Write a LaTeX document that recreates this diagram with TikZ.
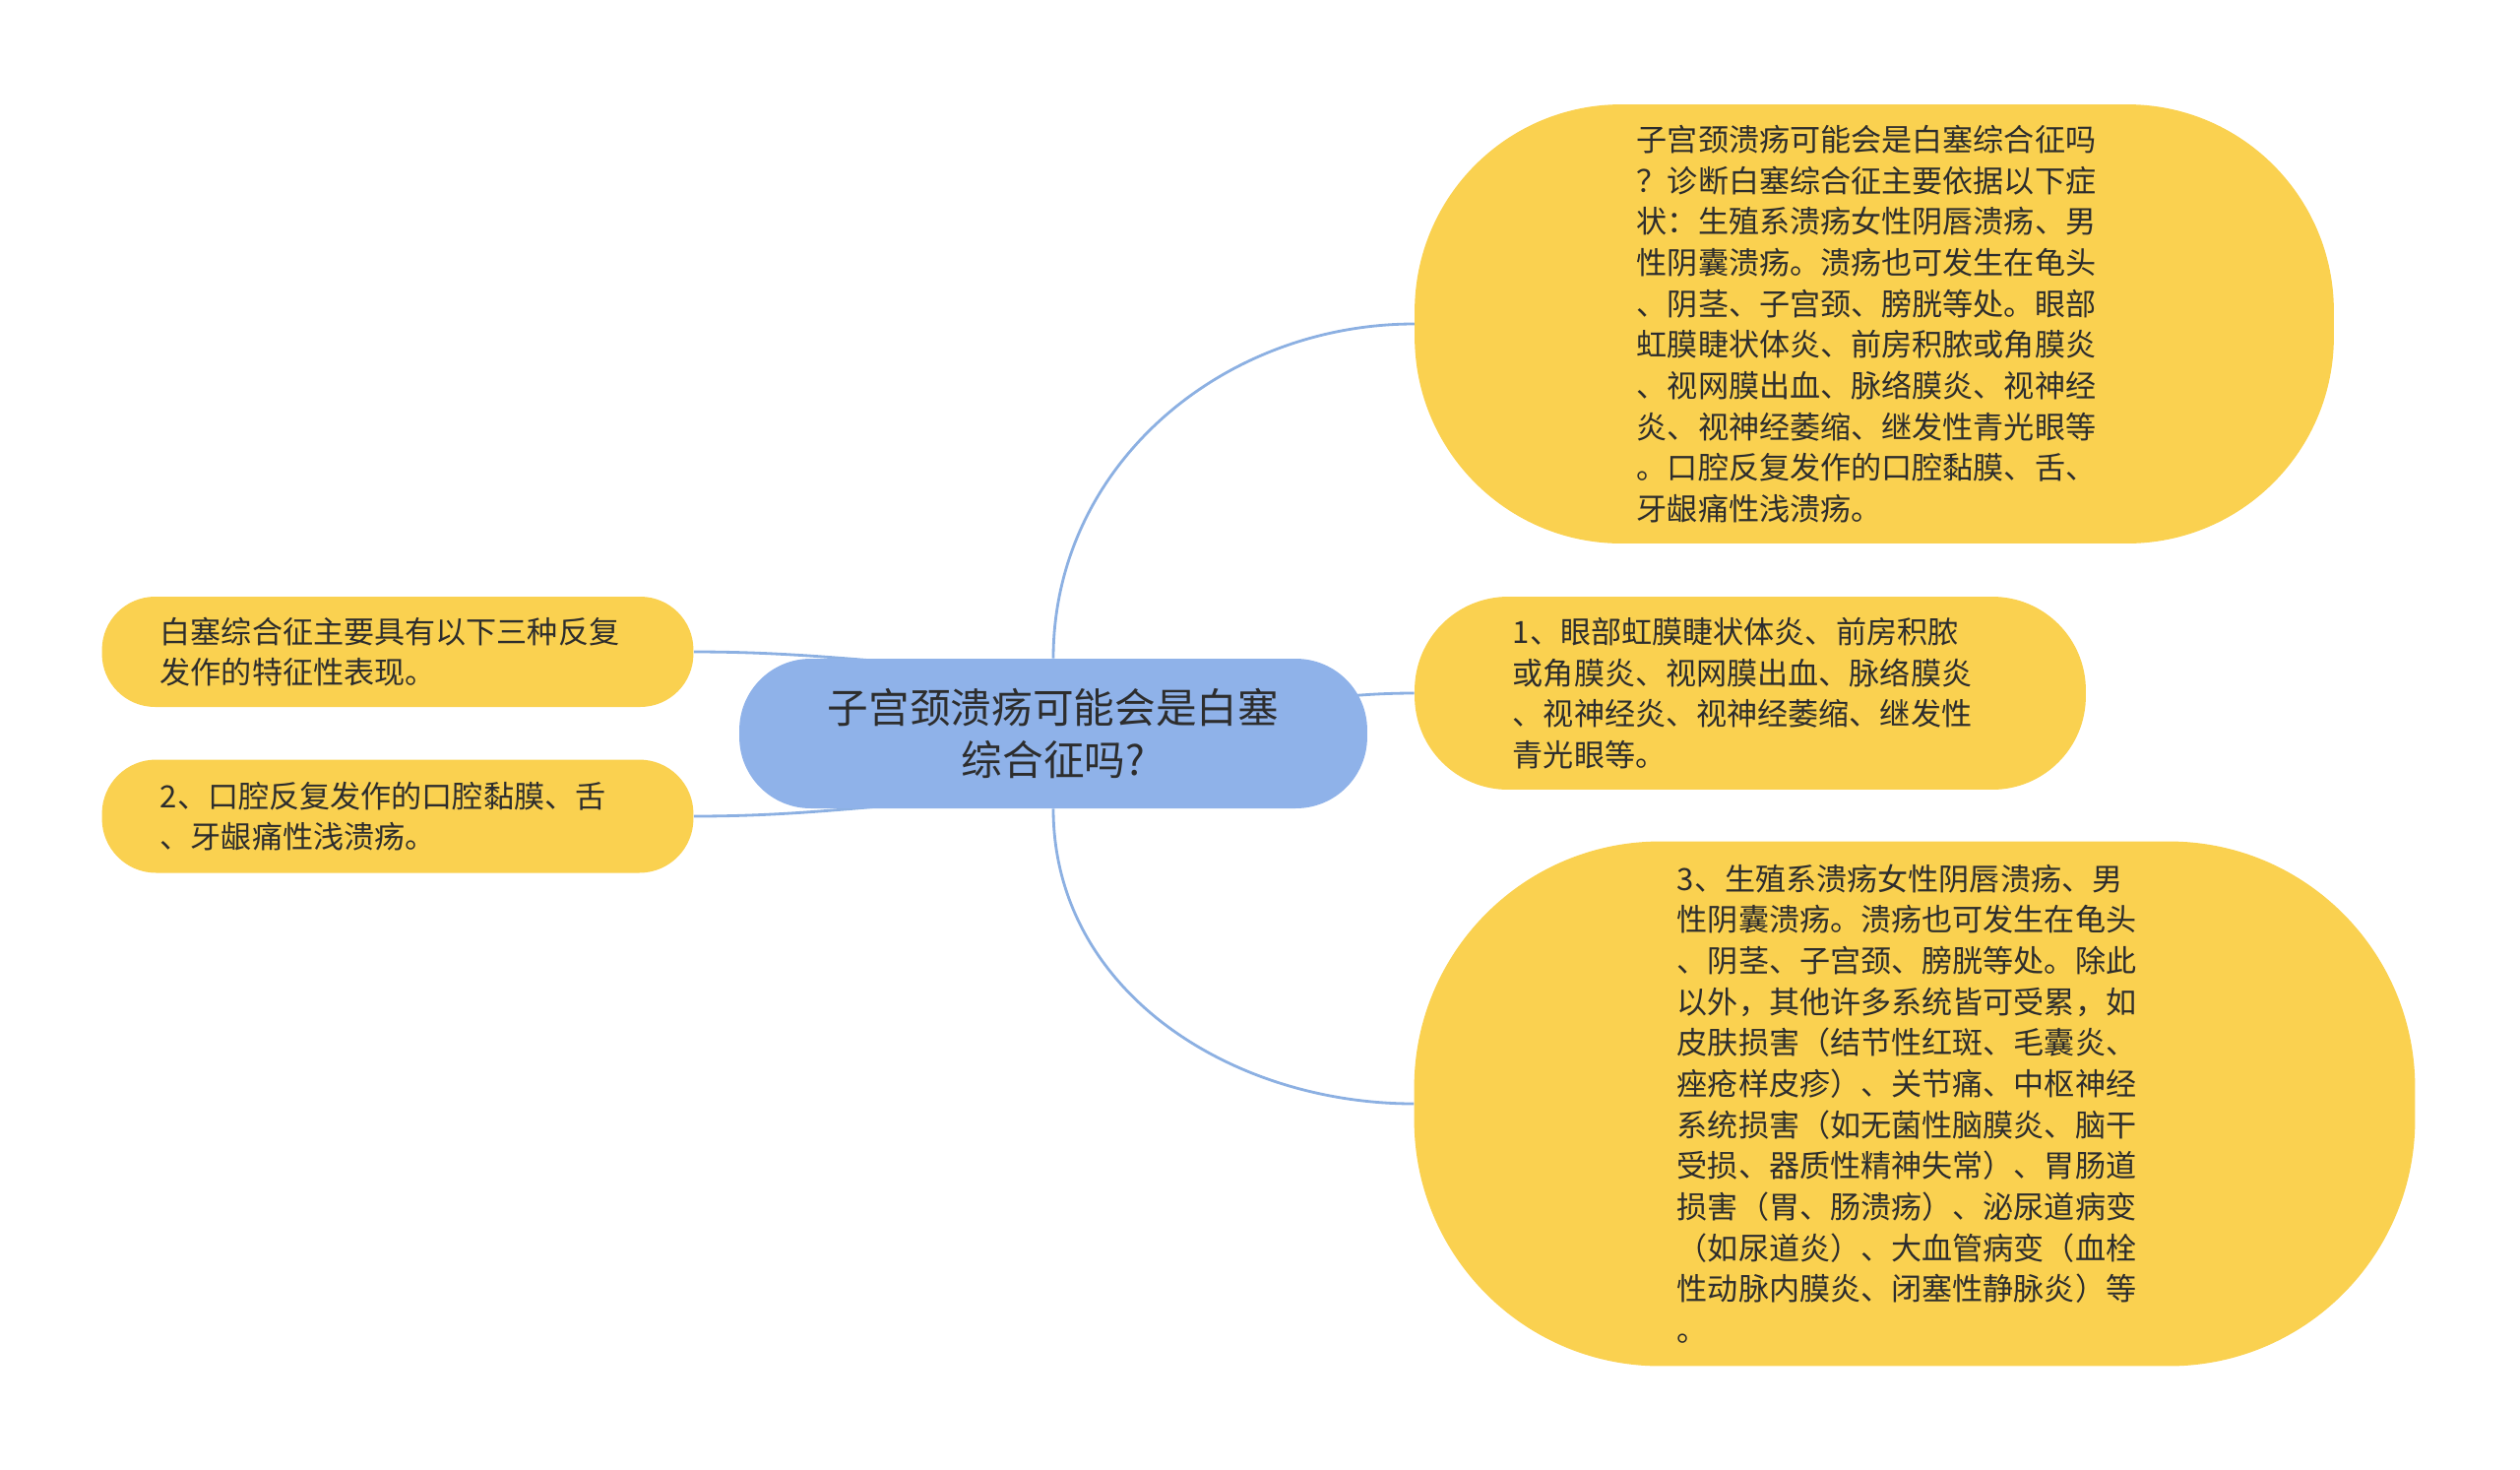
\documentclass[tikz,border=0pt]{standalone}
\usepackage{fontspec}
\setmainfont{Noto Sans CJK SC}
\usetikzlibrary{backgrounds}
\definecolor{topicyellow}{RGB}{250,209,80}
\definecolor{rootblue}{RGB}{143,178,233}
\definecolor{linkblue}{RGB}{140,176,226}
\definecolor{inktext}{RGB}{45,45,45}

\tikzset{
  topic/.style={fill=topicyellow, text=inktext, align=left, inner sep=0pt,
    text width=9.65cm, font=\fontsize{17.7}{23.7}\selectfont},
  root/.style={fill=rootblue, text=inktext, align=center, inner sep=0pt,
    font=\fontsize{23.7}{30.7}\selectfont},
  link/.style={draw=linkblue, line width=1.6pt}
}

\begin{document}
\begin{tikzpicture}[x=0.02cm,y=0.02cm]
\useasboundingbox (0,0) rectangle (2560,-1492);

% Root
\node[root, minimum width=12.76cm, minimum height=3.04cm, rounded corners=1.45cm] (c) at (1070,-745)
  {子宫颈溃疡可能会是白塞\\综合征吗?};

% Right top
\node[topic, minimum width=18.68cm, minimum height=8.92cm, rounded corners=4.2cm] (tr) at (1904,-329) {
子宫颈溃疡可能会是白塞综合征吗\\
？诊断白塞综合征主要依据以下症\\
状：生殖系溃疡女性阴唇溃疡、男\\
性阴囊溃疡。溃疡也可发生在龟头\\
、阴茎、子宫颈、膀胱等处。眼部\\
虹膜睫状体炎、前房积脓或角膜炎\\
、视网膜出血、脉络膜炎、视神经\\
炎、视神经萎缩、继发性青光眼等\\
。口腔反复发作的口腔黏膜、舌、\\
牙龈痛性浅溃疡。};

% Right middle
\node[topic, minimum width=13.64cm, minimum height=3.92cm, rounded corners=1.9cm] (mr) at (1778,-704) {
1、眼部虹膜睫状体炎、前房积脓\\
或角膜炎、视网膜出血、脉络膜炎\\
、视神经炎、视神经萎缩、继发性\\
青光眼等。};

% Right bottom
\node[topic, minimum width=20.34cm, minimum height=10.66cm, rounded corners=5cm] (br) at (1945,-1121) {
3、生殖系溃疡女性阴唇溃疡、男\\
性阴囊溃疡。溃疡也可发生在龟头\\
、阴茎、子宫颈、膀胱等处。除此\\
以外，其他许多系统皆可受累，如\\
皮肤损害（结节性红斑、毛囊炎、\\
痤疮样皮疹）、关节痛、中枢神经\\
系统损害（如无菌性脑膜炎、脑干\\
受损、器质性精神失常）、胃肠道\\
损害（胃、肠溃疡）、泌尿道病变\\
（如尿道炎）、大血管病变（血栓\\
性动脉内膜炎、闭塞性静脉炎）等\\
。};

% Left top
\node[topic, minimum width=12.02cm, minimum height=2.24cm, rounded corners=1.08cm] (lt) at (404,-662) {
白塞综合征主要具有以下三种反复\\
发作的特征性表现。};

% Left bottom
\node[topic, minimum width=12.02cm, minimum height=2.3cm, rounded corners=1.1cm] (lb) at (404,-829) {
2、口腔反复发作的口腔黏膜、舌\\
、牙龈痛性浅溃疡。};

% Links
\begin{scope}[on background layer]
\draw[link] (c.north) to[out=90,in=180] (tr.west);
\draw[link] (c.center) to[out=0,in=180] (mr.west);
\draw[link] (c.south) to[out=-90,in=180] (br.west);
\draw[link] (lt.east) to[out=0,in=180] ([yshift=1.3cm]c.center);
\draw[link] (lb.east) to[out=0,in=180] ([yshift=-1.3cm]c.center);
\end{scope}
\end{tikzpicture}
\end{document}
